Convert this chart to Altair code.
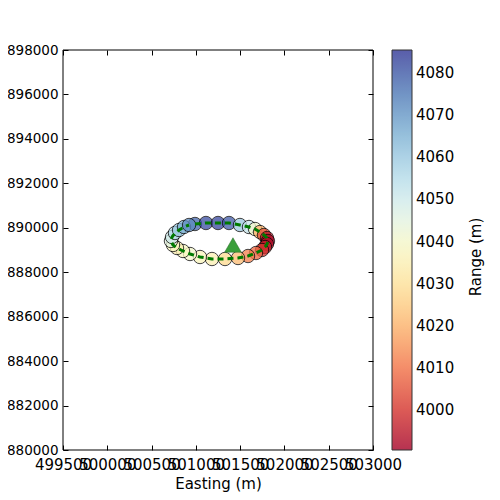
import altair as alt
import pandas as pd

# Track points (Easting, Northing) in drawing order, with range values
easting = [500990, 501114, 501250, 501374, 501498, 501600, 501668, 501724, 501769, 501803,
           501814, 501803, 501781, 501747, 501679, 501589, 501476, 501329, 501182, 501047,
           500934, 500855, 500787, 500742, 500719, 500731, 500764, 500810, 500866, 500923]
northing = [4890170, 4890215, 4890215, 4890215, 4890125, 4890035, 4889945, 4889810, 4889675, 4889540,
            4889405, 4889270, 4889135, 4889000, 4888865, 4888730, 4888640, 4888595, 4888595, 4888685,
            4888820, 4888955, 4889090, 4889225, 4889405, 4889585, 4889765, 4889900, 4890035, 4890125]
range_m = [4078, 4082, 4083, 4080, 4060, 4052, 4040, 4020, 4005, 3995,
           3992, 3993, 3997, 4000, 4008, 4012, 4022, 4028, 4035, 4037,
           4040, 4038, 4035, 4038, 4045, 4050, 4055, 4060, 4065, 4072]

station_e = [501419]
station_n = [4889225]

x_ticks = [499500, 500000, 500500, 501000, 501500, 502000, 502500, 503000]
y_ticks = [4880000, 4882000, 4884000, 4886000, 4888000, 4890000, 4892000, 4894000, 4896000, 4898000]
cbar_ticks = [4000, 4010, 4020, 4030, 4040, 4050, 4060, 4070, 4080]
range_domain = [3990.5, 4085.5]
cbar_title = ["Range (m)"]

df = pd.DataFrame({"e": easting, "n": northing, "r": range_m, "i": list(range(len(easting)))})
st = pd.DataFrame({"e": station_e, "n": station_n})

xs = alt.Scale(domain=[499500, 503000], nice=False, zero=False)
ys = alt.Scale(domain=[4880000, 4898000], nice=False, zero=False)

xax = alt.Axis(values=x_ticks, format="d", title="Easting (m)", labelOverlap=False, labelFlush=False,
               ticks=False, labelPadding=7, grid=True, gridColor="black", gridWidth=1,
               gridDash=[5, 390, 5, 1000], domain=False, titlePadding=4)
yax = alt.Axis(values=y_ticks, format="d", title=None, labelOverlap=False, labelFlush=False,
               ticks=False, labelPadding=5, labelFontSize=13.5, grid=True, gridColor="black", gridWidth=1,
               gridDash=[5, 300, 5, 1000], domain=False)

pts = alt.Chart(df).mark_circle(size=180, stroke="black", strokeWidth=1, opacity=0.75).encode(
    x=alt.X("e:Q", scale=xs, axis=xax),
    y=alt.Y("n:Q", scale=ys, axis=yax),
    color=alt.Color("r:Q", scale=alt.Scale(scheme="redyellowblue", domain=range_domain, nice=False, zero=False),
                    legend=alt.Legend(title=None, orient="right", offset=19, values=cbar_ticks, format="d",
                                      gradientLength=400, gradientThickness=20,
                                      gradientStrokeColor="black", gradientStrokeWidth=1,
                                      gradientOpacity=0.8, labelOffset=4)),
    order="i:Q",
)

line = alt.Chart(df).mark_line(color="#007a00", strokeWidth=3, strokeDash=[6, 4]).encode(
    x=alt.X("e:Q", scale=xs), y=alt.Y("n:Q", scale=ys), order="i:Q"
)

tri = alt.Chart(st).mark_point(shape="triangle-up", filled=True, size=280, color="#3a9e3a",
                               stroke="#2a6a2a", strokeWidth=0.5, opacity=1).encode(
    x=alt.X("e:Q", scale=xs), y=alt.Y("n:Q", scale=ys)
)

frame = alt.Chart(pd.DataFrame({"a": [0]})).mark_rect(fill=None, stroke="black", strokeWidth=1).encode(
    x=alt.value(0), x2=alt.value(310), y=alt.value(0), y2=alt.value(400)
)

ttl = alt.Chart(pd.DataFrame({"t": cbar_title})).mark_text(
    angle=270, font="DejaVu Sans", fontSize=15, color="black", align="center", baseline="middle"
).encode(text="t:N", x=alt.value(413), y=alt.value(207))

chart = alt.layer(pts, line, tri, frame, ttl).properties(
    width=310, height=400,
    autosize=alt.AutoSizeParams(type="none"),
    padding={"left": 55, "top": 42, "right": 119, "bottom": 42},
).configure_axis(
    labelFont="DejaVu Sans", labelFontSize=15, titleFont="DejaVu Sans", titleFontSize=15,
    titleFontWeight="normal", labelColor="black", titleColor="black",
).configure_legend(
    labelFont="DejaVu Sans", labelFontSize=15, labelColor="black",
).configure_view(stroke=None)

chart.save("out.html", embed_options={"renderer": "svg", "actions": False})
